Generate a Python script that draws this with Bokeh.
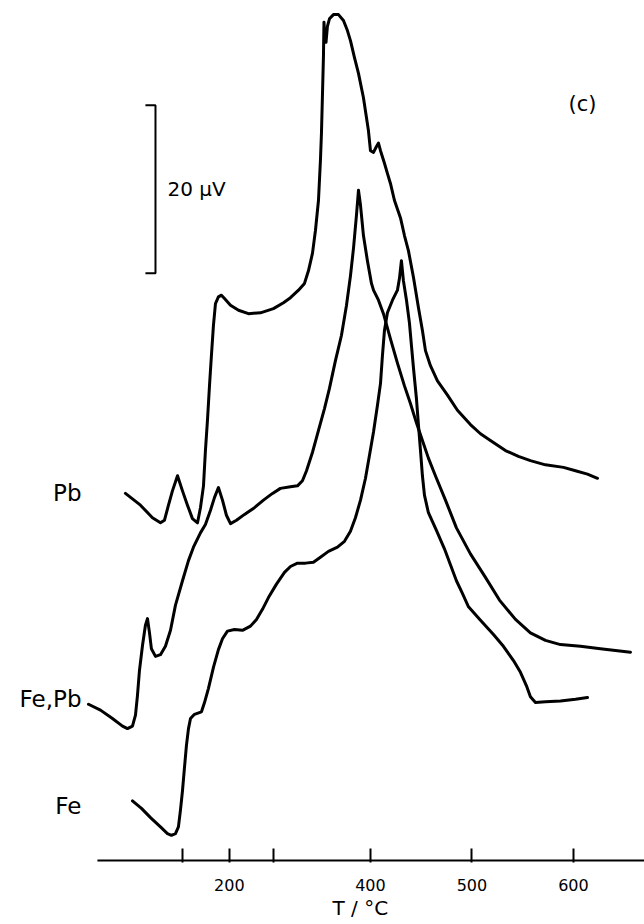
from bokeh.plotting import figure
from bokeh.models import Range1d, FixedTicker, Label, Title
from bokeh.embed import file_html
from bokeh.resources import INLINE

# DTA traces: furnace temperature (°C) against differential signal (µV),
# each trace carries its own vertical offset.
pb_t = [158.6, 173.4, 185.2, 193.1, 197.0, 201.0, 204.9, 209.9, 214.8, 219.7,
        224.6, 229.6, 232.5, 235.5, 237.4, 239.4, 241.4, 243.3, 245.3, 247.3,
        250.2, 253.2, 256.2, 262.1, 270.0, 279.8, 291.6, 304.4, 314.3, 321.2,
        329.1, 335.0, 338.9, 342.9, 345.8, 348.8, 350.7, 351.7, 352.7, 353.7,
        354.2, 355.2, 356.2, 357.6, 359.6, 363.5, 368.5, 373.4, 377.3, 380.3,
        384.2, 388.2, 393.1, 398.0, 400.0, 403.0, 405.9, 407.9, 409.9, 413.8,
        416.7, 419.7, 423.6, 429.6, 433.5, 437.4, 442.4, 447.3, 451.2, 454.2,
        459.1, 466.0, 475.9, 485.7, 498.5, 508.4, 518.2, 533.0, 545.8, 557.6,
        572.4, 590.2, 602.0, 613.8, 623.7]
pb_uv = [43.7, 42.3, 40.8, 40.2, 40.5, 42.3, 44.0, 45.8, 44.0, 42.3,
         40.7, 40.2, 42.0, 44.6, 48.8, 52.4, 56.5, 60.1, 63.7, 66.3,
         67.1, 67.3, 66.9, 66.1, 65.5, 65.1, 65.2, 65.7, 66.4, 67.0,
         67.9, 68.7, 70.2, 72.3, 75.0, 78.6, 83.3, 86.5, 91.1, 95.8,
         99.8, 97.6, 97.4, 99.3, 100.2, 100.7, 100.7, 100.0, 98.8, 97.6,
         95.6, 93.7, 90.8, 86.9, 84.5, 84.3, 85.0, 85.4, 84.5, 83.0,
         81.8, 80.6, 78.6, 76.5, 74.4, 72.6, 69.4, 65.8, 63.1, 60.7,
         58.9, 57.1, 55.4, 53.6, 51.9, 50.8, 50.0, 48.8, 48.1, 47.6,
         47.1, 46.8, 46.4, 46.0, 45.5]

fepb_t = [122.2, 134.0, 145.8, 155.7, 160.6, 165.5, 168.5, 170.4, 172.4, 175.4,
          178.3, 180.3, 182.3, 184.2, 188.2, 193.1, 198.0, 203.0, 207.9, 214.8,
          220.7, 225.6, 232.5, 237.4, 242.4, 246.3, 250.2, 254.2, 258.1, 262.1,
          268.0, 275.9, 285.7, 294.6, 303.5, 311.3, 321.2, 328.1, 333.0, 337.0,
          342.9, 348.8, 354.7, 359.6, 365.5, 371.4, 376.4, 380.3, 383.3, 386.2,
          388.2, 390.2, 393.1, 397.0, 401.0, 403.0, 407.9, 412.8, 419.7, 426.6,
          433.5, 439.4, 445.3, 451.2, 457.1, 464.0, 473.9, 484.7, 498.5, 513.3,
          527.1, 542.9, 557.6, 572.4, 587.2, 606.9, 626.6, 641.4, 656.2]
fepb_uv = [18.6, 17.9, 16.9, 16.0, 15.7, 16.0, 17.3, 19.6, 22.6, 25.6,
           28.0, 28.8, 27.1, 25.2, 24.3, 24.5, 25.5, 27.4, 30.4, 33.3,
           35.7, 37.3, 39.0, 40.0, 41.7, 43.2, 44.4, 42.9, 41.1, 40.1,
           40.5, 41.2, 42.0, 42.9, 43.7, 44.3, 44.5, 44.6, 45.2, 46.4,
           48.6, 51.2, 53.8, 56.2, 59.5, 62.5, 66.1, 69.6, 72.9, 76.8,
           79.8, 78.0, 74.4, 71.4, 68.7, 67.9, 66.7, 65.1, 62.1, 59.2,
           56.5, 54.4, 52.1, 50.0, 47.9, 45.8, 42.9, 39.6, 36.5, 33.7,
           31.0, 28.7, 27.1, 26.2, 25.7, 25.5, 25.2, 25.0, 24.8]

fe_t = [165.5, 174.4, 183.3, 193.1, 200.0, 203.9, 207.9, 210.8, 212.8, 214.8,
        216.8, 218.7, 220.7, 222.7, 226.6, 233.5, 236.5, 240.4, 245.3, 250.2,
        254.2, 259.1, 266.0, 273.9, 281.8, 287.7, 293.6, 299.5, 307.4, 315.3,
        321.2, 328.1, 336.0, 343.8, 350.7, 358.6, 367.5, 374.4, 380.3, 385.2,
        390.2, 395.1, 399.0, 403.0, 406.9, 409.9, 411.8, 413.8, 416.7, 421.7,
        426.6, 428.6, 430.5, 432.5, 435.5, 438.4, 440.4, 442.4, 445.3, 447.3,
        449.3, 451.2, 453.2, 457.1, 465.0, 472.9, 478.8, 484.7, 490.6, 496.6,
        508.4, 521.2, 531.0, 540.9, 547.8, 553.7, 557.6, 562.6, 572.4, 587.2,
        602.0, 613.8]
fe_uv = [7.1, 6.2, 5.1, 4.0, 3.2, 3.0, 3.2, 4.0, 6.0, 8.3,
         11.1, 13.7, 15.7, 16.9, 17.4, 17.7, 18.8, 20.5, 23.0, 25.1,
         26.4, 27.3, 27.5, 27.4, 27.9, 28.7, 29.9, 31.3, 32.9, 34.3,
         35.0, 35.4, 35.4, 35.5, 36.1, 36.8, 37.3, 38.0, 39.2, 40.8,
         42.9, 45.5, 48.2, 51.0, 54.2, 56.8, 60.1, 63.1, 65.2, 66.7,
         67.9, 69.3, 71.4, 69.0, 66.7, 64.0, 61.3, 58.6, 55.0, 51.8,
         48.8, 45.8, 43.5, 41.4, 39.3, 37.1, 35.2, 33.3, 31.8, 30.2,
         28.6, 26.9, 25.5, 23.8, 22.4, 20.8, 19.5, 18.8, 18.9, 19.0,
         19.2, 19.4]

# temperature axis marks and their printed labels
tick_positions = [215, 261, 304, 400, 500, 600]
tick_labels = ["", "200", "", "400", "500", "600"]

# trace names, where each one is printed, and the µV calibration bar
trace_names = ["Pb", "Fe,Pb", "Fe"]
name_t = [115.3, 115.3, 115.3]
name_uv = [43.7, 19.2, 6.5]
SCALE_BAR_UV = 20
scale_bar_base = 69.9
scale_bar_t = [178.3, 188.2]

FONT = "DejaVu Sans"
INK = "#000000"

p = figure(width=644, height=924, output_backend="svg", toolbar_location=None,
           x_range=Range1d(35.5, 670.0), y_range=Range1d(-0.24, 102.38),
           y_axis_location=None,
           min_border_left=0, min_border_right=0, min_border_top=0,
           min_border_bottom=62)
p.outline_line_color = None
p.grid.visible = False
p.background_fill_color = "white"
p.border_fill_color = "white"

ax = p.xaxis[0]
ax.ticker = FixedTicker(ticks=tick_positions)
ax.major_label_overrides = dict(zip(tick_positions, tick_labels))
ax.axis_line_color = None
ax.major_tick_in = 14
ax.major_tick_out = 0
ax.major_tick_line_width = 2
ax.major_tick_line_color = INK
ax.minor_tick_line_color = None
ax.major_label_text_font = FONT
ax.major_label_text_font_size = "16px"
ax.major_label_text_color = INK
ax.major_label_standoff = 16

# axis title sits under the 400 mark rather than mid-frame
p.add_layout(Title(text="T / °C", align="left", offset=332,
                   text_font=FONT, text_font_size="20px",
                   text_font_style="normal", text_color=INK, standoff=0),
             "below")

# temperature axis baseline, starting a little right of the trace labels
p.line([131.0, p.x_range.end], [0, 0], line_width=2, color=INK)

for t, uv in ((pb_t, pb_uv), (fepb_t, fepb_uv), (fe_t, fe_uv)):
    p.line(t, uv, line_width=3, color=INK, line_join="round", line_cap="round")

# calibration bracket
top = scale_bar_base + SCALE_BAR_UV
p.line([scale_bar_t[0], scale_bar_t[1], scale_bar_t[1], scale_bar_t[0]],
       [top, top, scale_bar_base, scale_bar_base], line_width=2, color=INK)
p.add_layout(Label(x=200.0, y=79.9, text="20 µV", text_font=FONT,
                   text_font_size="20px", text_color=INK,
                   text_baseline="alphabetic", text_align="left"))

for name, t, uv in zip(trace_names, name_t, name_uv):
    p.add_layout(Label(x=t, y=uv, text=name, text_font=FONT,
                       text_font_size="23px", text_color=INK,
                       text_baseline="alphabetic", text_align="right"))

p.add_layout(Label(x=608.9, y=90.1, text="(c)", text_font=FONT,
                   text_font_size="21px", text_color=INK,
                   text_baseline="alphabetic", text_align="center"))

open("out.html", "w").write(file_html(p, INLINE))
